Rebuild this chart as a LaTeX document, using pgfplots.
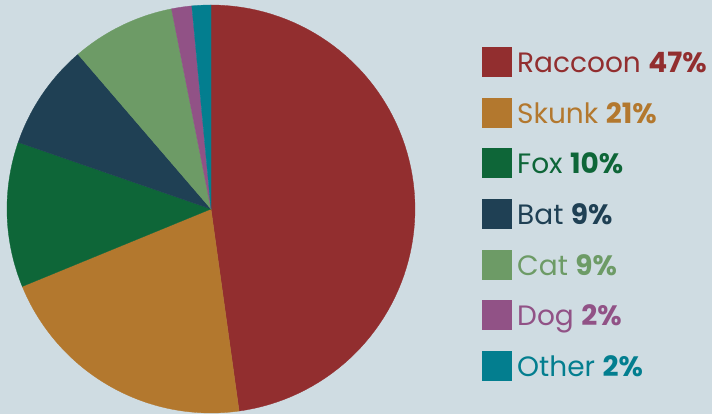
\documentclass[border=0pt]{standalone}
\usepackage{pgfplots}
\pgfplotsset{compat=1.18}
\usepackage{pgfplotstable}
\usepackage{fontspec}
\setmainfont{Poppins}

\definecolor{bg}{HTML}{CFDCE2}
\definecolor{raccoon}{HTML}{922E2F}
\definecolor{skunk}{HTML}{B3782E}
\definecolor{fox}{HTML}{0E6638}
\definecolor{bat}{HTML}{1F4054}
\definecolor{cat}{HTML}{6D9B66}
\definecolor{dog}{HTML}{915286}
\definecolor{other}{HTML}{037E8F}

% share of each slice (percent), clockwise from 12 o'clock
\pgfplotstableread{
name    value  col      label
Raccoon 47.8   raccoon  47
Skunk   21.0   skunk    21
Fox     11.5   fox      10
Bat     8.4    bat      9
Cat     8.2    cat      9
Dog     1.6    dog      2
Other   1.5    other    2
}\piedata

\begin{document}
\begin{tikzpicture}
\fill[bg] (0,0) rectangle (712pt,414pt);
\begin{axis}[
    scale only axis,
    width=712pt, height=414pt,
    xmin=0, xmax=712, ymin=0, ymax=414,
    hide axis, clip=false,
]
\def\cx{211}
\def\cy{205}
\def\rr{204}
\def\cum{0}
\pgfplotsforeachungrouped \i in {0,...,6}{%
    \pgfplotstablegetelem{\i}{value}\of\piedata
    \let\val=\pgfplotsretval
    \pgfplotstablegetelem{\i}{col}\of\piedata
    \let\col=\pgfplotsretval
    \pgfplotstablegetelem{\i}{name}\of\piedata
    \let\nm=\pgfplotsretval
    \pgfplotstablegetelem{\i}{label}\of\piedata
    \let\lb=\pgfplotsretval
    \pgfmathsetmacro\aa{90-3.6*\cum}
    \pgfmathsetmacro\bb{90-3.6*(\cum+\val)}
    \pgfmathsetmacro\cum{\cum+\val}
    \pgfmathsetmacro\ly{414-62-50.67*\i}
    \edef\temp{%
        \noexpand\addplot[fill=\col, draw=\col, line width=0.3pt, domain=\bb:\aa, samples=80]
            ({\cx+\rr*cos(x)},{\cy+\rr*sin(x)}) -- (axis cs:\cx,\cy) -- cycle;
        \noexpand\fill[\col] (axis cs:482,\ly-15) rectangle (axis cs:512,\ly+15);
        \noexpand\node[anchor=base west, inner sep=0pt, text=\col,
            font=\noexpand\fontsize{28}{32}\noexpand\selectfont]
            at (axis cs:517,\ly-10.5) {\nm\space\noexpand\textbf{\lb\noexpand\%}};
    }%
    \temp
}
\end{axis}
\end{tikzpicture}
\end{document}
